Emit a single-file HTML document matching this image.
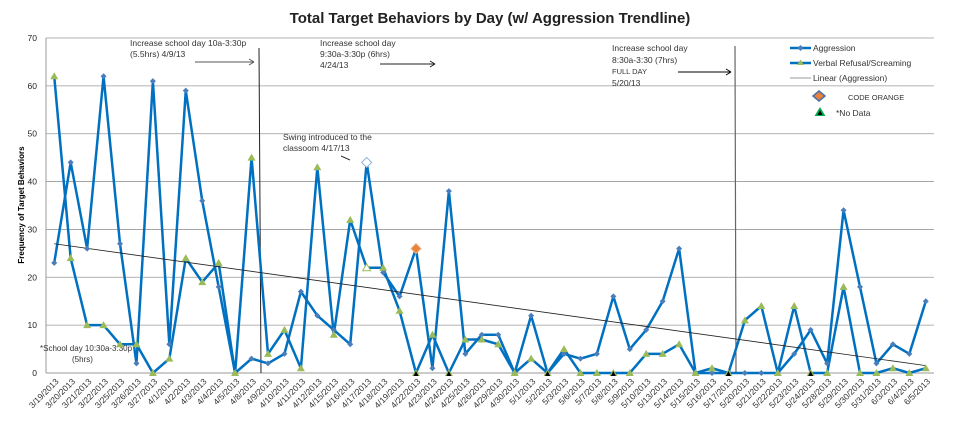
<!DOCTYPE html>
<html><head><meta charset="utf-8"><style>
body{margin:0;background:#fff;}
svg{display:block;font-family:"Liberation Sans",sans-serif;}
</style></head><body>
<svg id="chart" width="960" height="438" viewBox="0 0 960 438">
<text x="490" y="23" text-anchor="middle" font-size="15" font-weight="bold" fill="#222">Total Target Behaviors by Day (w/ Aggression Trendline)</text>
<text transform="translate(24,205) rotate(-90)" text-anchor="middle" font-size="8" font-weight="bold" fill="#000">Frequency of Target Behaviors</text>
<g id="grid"></g><g id="ann"></g><g id="marks"></g><g id="xl"></g>
<g font-size="8.5" fill="#333">
<g><line x1="790" y1="48" x2="811" y2="48" stroke="#0070c0" stroke-width="2.5"/><path d="M800.5 45 L803.5 48 L800.5 51 L797.5 48Z" fill="#4a7ebb"/><text x="813" y="51">Aggression</text></g>
<g><line x1="790" y1="63" x2="811" y2="63" stroke="#0070c0" stroke-width="2.5"/><path d="M800.5 59.5 L804 65 L797 65Z" fill="#9bbb59"/><text x="813" y="66">Verbal Refusal/Screaming</text></g>
<g><line x1="790" y1="78" x2="811" y2="78" stroke="#999" stroke-width="1"/><text x="813" y="81">Linear (Aggression)</text></g>
<g><path d="M819 91 L825 96 L819 101 L813 96Z" fill="#e8833a" stroke="#4a6fa5" stroke-width="1.5"/><text x="848" y="100" font-size="7.5">CODE ORANGE</text></g>
<g><path d="M820 107 L825.5 116 L814.5 116Z" fill="#00b050"/><path d="M820 110 L822.5 115 L817.5 115Z" fill="#000"/><text x="836" y="116">*No Data</text></g>
</g>
</svg>
<script>
const categories=["3/19/2013","3/20/2013","3/21/2013","3/22/2013","3/25/2013","3/26/2013","3/27/2013","4/1/2013","4/2/2013","4/3/2013","4/4/2013","4/5/2013","4/8/2013","4/9/2013","4/10/2013","4/11/2013","4/12/2013","4/15/2013","4/16/2013","4/17/2013","4/18/2013","4/19/2013","4/22/2013","4/23/2013","4/24/2013","4/25/2013","4/26/2013","4/29/2013","4/30/2013","5/1/2013","5/2/2013","5/3/2013","5/6/2013","5/7/2013","5/8/2013","5/9/2013","5/10/2013","5/13/2013","5/14/2013","5/15/2013","5/16/2013","5/17/2013","5/20/2013","5/21/2013","5/22/2013","5/23/2013","5/24/2013","5/28/2013","5/29/2013","5/30/2013","5/31/2013","6/3/2013","6/4/2013","6/5/2013"];
const aggression=[23,44,26,62,27,2,61,6,59,36,18,0,3,2,4,17,12,9,6,44,21,16,26,1,38,4,8,8,0,12,0,4,3,4,16,5,9,15,26,0,0,0,0,0,0,4,9,2,34,18,2,6,4,15];
const verbal=[62,24,10,10,6,6,0,3,24,19,23,0,45,4,9,1,43,8,32,22,22,13,0,8,0,7,7,6,0,3,0,5,0,0,0,0,4,4,6,0,1,0,11,14,0,14,0,0,18,0,0,1,0,1];
const noDataIdx=[22,24,30,34,41,46];
const codeOrangeIdx=[22];
const hollowIdx=[19];
const yTicks=[0,10,20,30,40,50,60,70];
const NS="http://www.w3.org/2000/svg";
const L=46,R=934,T=38,B=373;
const step=(R-L)/categories.length;
const xs=i=>L+step/2+i*step;
const ys=v=>B-(v/70)*(B-T);
function mk(tag,attrs,parent){const e=document.createElementNS(NS,tag);for(const k in attrs)e.setAttribute(k,attrs[k]);parent.appendChild(e);return e;}
const grid=document.getElementById('grid'),marks=document.getElementById('marks'),xl=document.getElementById('xl'),ann=document.getElementById('ann');
yTicks.forEach(t=>{
 const g=mk('line',{x1:L,x2:R,y1:ys(t),y2:ys(t),stroke:t===0?'#bbb':'#999','stroke-width':t===0?1.5:0.8},grid);
 
 
 const tx=mk('text',{x:L-9,y:ys(t)+3,'text-anchor':'end','font-size':8.5,fill:'#222'},grid);
 tx.textContent=t;
 
 
});
const ax=mk('line',{x1:L,x2:L,y1:T,y2:B,stroke:'#999','stroke-width':1},grid);


categories.forEach((c,i)=>{
 const t=mk('text',{transform:`translate(${xs(i)+5},${B+9}) rotate(-45)`,'text-anchor':'end','font-size':8.5,fill:'#333'},xl);
 t.textContent=c;
 
 
});
// trendline (linear regression of aggression)
const n=aggression.length;let sx=0,sy=0,sxy=0,sxx=0;
aggression.forEach((v,i)=>{sx+=i;sy+=v;sxy+=i*v;sxx+=i*i;});
const slope=(n*sxy-sx*sy)/(n*sxx-sx*sx),icpt=(sy-slope*sx)/n;
function poly(arr,name){
 const p=mk('polyline',{points:arr.map((v,i)=>xs(i)+','+ys(v)).join(' '),fill:'none',stroke:'#0070c0','stroke-width':2.5,'stroke-linejoin':'round'},marks);
 
 
}
poly(verbal,'verbal-line');
poly(aggression,'aggression-line');
const tl=mk('line',{x1:xs(0),y1:ys(icpt),x2:xs(n-1),y2:ys(icpt+slope*(n-1)),stroke:'#222','stroke-width':0.8},marks);


aggression.forEach((v,i)=>{
 const x=xs(i),y=ys(v);let s=3,fill='#4a7ebb',stroke='none';
 if(codeOrangeIdx.includes(i)){s=5;fill='#e8833a';stroke='#f4b183';}
 if(hollowIdx.includes(i)){s=5;fill='#fff';stroke='#8fb0dd';}
 const d=mk('path',{d:`M${x} ${y-s}L${x+s} ${y}L${x} ${y+s}L${x-s} ${y}Z`,fill,stroke},marks);
 
 
});
verbal.forEach((v,i)=>{
 const x=xs(i),y=ys(v);let fill='#9bbb59',stroke='none';
 if(hollowIdx.includes(i)){fill='#fff';stroke='#9bbb59';}
 const d=mk('path',{d:`M${x} ${y-4}L${x+4} ${y+3}L${x-4} ${y+3}Z`,fill,stroke},marks);
 
 
 if(noDataIdx.includes(i)){
  const b=mk('path',{d:`M${x} ${y-2}L${x+2.5} ${y+3}L${x-2.5} ${y+3}Z`,fill:'#000'},marks);
  
  
 }
});
// annotations
function txt(x,y,s,name,fs){const t=mk('text',{x,y,'font-size':fs||8.5,fill:'#333'},ann);t.textContent=s;}
function ln(x1,y1,x2,y2,c,name,w){const l=mk('line',{x1,y1,x2,y2,stroke:c,'stroke-width':w||1},ann);}
ln(259,48,261,373,'#222','milestone-line-4-9');
ln(735,46,736,373,'#666','milestone-line-5-20',1.2);
txt(130,46,'Increase school day 10a-3:30p','annotation-4-9');
txt(130,57,'(5.5hrs) 4/9/13','annotation-4-9b');
ln(195,62,254,62,'#555','arrow-4-9');ln(249,59,254,62,'#555','arrow-head');ln(249,65,254,62,'#555','arrow-head');
txt(320,46,'Increase school day','annotation-4-24');
txt(320,57,'9:30a-3:30p (6hrs)','annotation-4-24b');
txt(320,68,'4/24/13','annotation-4-24c');
ln(380,64,435,64,'#222','arrow-4-24');ln(430,61,435,64,'#222','arrow-head');ln(430,67,435,64,'#222','arrow-head');
txt(612,51,'Increase school day','annotation-5-20');
txt(612,63,'8:30a-3:30 (7hrs)','annotation-5-20b');
txt(612,74,'FULL DAY','annotation-5-20c',7.5);
txt(612,86,'5/20/13','annotation-5-20d');
ln(678,72,731,72,'#000','arrow-5-20');ln(726,69,731,72,'#000','arrow-head');ln(726,75,731,72,'#000','arrow-head');
txt(283,140,'Swing introduced to the','annotation-swing');
txt(283,151,'classoom 4/17/13','annotation-swing-b');
ln(341,156,350,160,'#333','arrow-swing');
txt(40,351,'*School day 10:30a-3:30p','annotation-school-day',8);
txt(72,362,'(5hrs)','annotation-school-day-b',8);
</script>
</body></html>
